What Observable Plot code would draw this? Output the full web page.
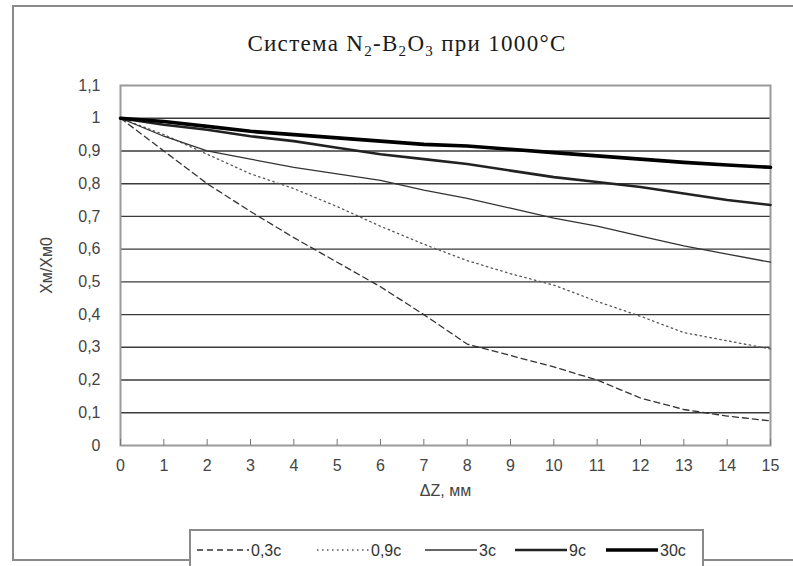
<!DOCTYPE html>
<html>
<head>
<meta charset="utf-8">
<script src="https://cdn.jsdelivr.net/npm/d3@7"></script>
<script src="https://cdn.jsdelivr.net/npm/@observablehq/plot@0.6"></script>
<style>
  html, body { margin: 0; padding: 0; background: #fff; overflow: hidden; }
  #wrap { position: relative; width: 793px; height: 566px; overflow: hidden; background: #fff; }
  #border { position: absolute; left: 12px; top: 5px; width: 800px; height: 556px; border: 2px solid #8a8a8a; box-sizing: border-box; }
  #title { position: absolute; left: 0; top: 31px; width: 814px; text-align: center; font-family: "Liberation Serif", "DejaVu Serif", serif; font-size: 23px; color: #1a1a1a; letter-spacing: 1.3px; }
  #title sub { font-size: 15px; vertical-align: -5px; line-height: 0; }
  #chart { position: absolute; left: 0; top: 0; }
  #legend { position: absolute; left: 189px; top: 529px; width: 515px; height: 40px; border: 2px solid #8a8a8a; box-sizing: border-box; background: #fff; }
</style>
</head>
<body>
<div id="wrap">
  <div id="border"></div>
  <div id="chart"></div>
  <div id="title">Система N<sub>2</sub>-B<sub>2</sub>O<sub>3</sub> при 1000°C</div>
  <div id="legend"></div>
</div>
<script>
// ---- data ----
const dz = [0, 1, 2, 3, 4, 5, 6, 7, 8, 9, 10, 11, 12, 13, 14, 15];
const s03 = [1, 0.9, 0.8, 0.715, 0.635, 0.56, 0.485, 0.4, 0.31, 0.275, 0.24, 0.2, 0.145, 0.11, 0.09, 0.075];
const s09 = [1, 0.95, 0.89, 0.83, 0.785, 0.73, 0.67, 0.615, 0.565, 0.525, 0.49, 0.44, 0.395, 0.345, 0.32, 0.295];
const s3  = [1, 0.945, 0.9, 0.875, 0.85, 0.83, 0.81, 0.78, 0.755, 0.725, 0.695, 0.67, 0.64, 0.61, 0.585, 0.56];
const s9  = [1, 0.98, 0.965, 0.945, 0.93, 0.91, 0.89, 0.875, 0.86, 0.84, 0.82, 0.805, 0.79, 0.77, 0.75, 0.735];
const s30 = [1, 0.99, 0.975, 0.96, 0.95, 0.94, 0.93, 0.92, 0.915, 0.905, 0.895, 0.885, 0.875, 0.865, 0.857, 0.85];
const seriesNames = ["0,3c", "0,9c", "3c", "9c", "30c"];
const xTicks = [0, 1, 2, 3, 4, 5, 6, 7, 8, 9, 10, 11, 12, 13, 14, 15];
const yTicks = [0, 0.1, 0.2, 0.3, 0.4, 0.5, 0.6, 0.7, 0.8, 0.9, 1, 1.1];
const gridValues = [0.1, 0.2, 0.3, 0.4, 0.5, 0.6, 0.7, 0.8, 0.9, 1];

// ---- styles ----
const styles = {
  "0,3c": {stroke: "#333", strokeWidth: 1.3, strokeDasharray: "6,4"},
  "0,9c": {stroke: "#555", strokeWidth: 1.3, strokeDasharray: "1.5,3.5"},
  "3c":   {stroke: "#333", strokeWidth: 1.3},
  "9c":   {stroke: "#222", strokeWidth: 2.6},
  "30c":  {stroke: "#000", strokeWidth: 3.6}
};
const seriesValues = [s03, s09, s3, s9, s30];
const data = seriesNames.map((name, i) => dz.map((x, j) => ({name, x, y: seriesValues[i][j]})));

const fmt = d => String(d).replace(".", ",");

const plot = Plot.plot({
  width: 793,
  height: 566,
  marginLeft: 120,
  marginRight: 23,
  marginTop: 85,
  marginBottom: 121,
  style: {fontFamily: "'Liberation Sans', Arial, sans-serif", fontSize: "16px", color: "#444", background: "transparent"},
  x: {domain: [0, 15]},
  y: {domain: [0, 1.1]},
  marks: [
    Plot.ruleY(gridValues, {stroke: "#3a3a3a", strokeWidth: 1.4}),
    Plot.frame({stroke: "#9a9a9a", strokeWidth: 2}),
    ...data.map((d, i) => Plot.line(d, {x: "x", y: "y", ...styles[seriesNames[i]]})),
    Plot.axisX({ticks: xTicks, tickFormat: fmt, tickSize: -6, tickPadding: 20, stroke: "#777",
      label: "ΔZ, мм", labelAnchor: "center", labelArrow: "none", labelOffset: 50, fontSize: 16}),
    Plot.axisY({ticks: yTicks, tickFormat: fmt, tickSize: 0, tickPadding: 20,
      label: "Xм/Xм0", labelAnchor: "center", labelArrow: "none", labelOffset: 80, fontSize: 16})
  ]
});
document.getElementById("chart").appendChild(plot);

// ---- legend (from series names and styles) ----
const leg = d3.select("#legend").append("svg").attr("width", 511).attr("height", 36);
const itemX = [4, 124, 232, 322, 413];
const swatchW = 52;
seriesNames.forEach((name, i) => {
  const st = styles[name];
  const g = leg.append("g").attr("transform", `translate(${itemX[i]},0)`);
  g.append("line").attr("x1", 2).attr("x2", 2 + swatchW).attr("y1", 19).attr("y2", 19)
    .attr("stroke", st.stroke).attr("stroke-width", st.strokeWidth)
    .attr("stroke-dasharray", st.strokeDasharray || null);
  g.append("text").attr("x", swatchW + 4).attr("y", 25).text(name)
    .attr("font-family", "'Liberation Sans', Arial, sans-serif").attr("font-size", 16).attr("fill", "#333");
});
</script>
</body>
</html>
